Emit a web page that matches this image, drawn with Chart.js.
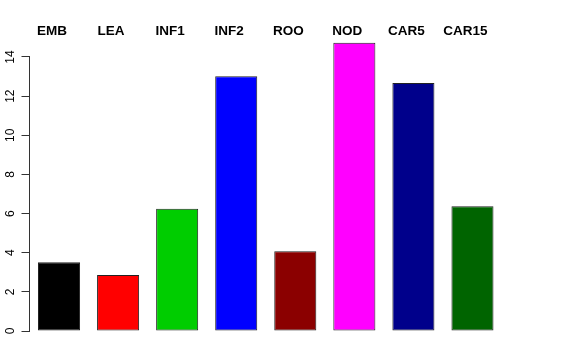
<!DOCTYPE html>
<html>
<head>
<meta charset="utf-8">
<script src="https://cdn.jsdelivr.net/npm/chart.js@4/dist/chart.umd.min.js"></script>
<style>
  html, body { margin: 0; padding: 0; background: #fff; }
  #wrap { width: 576px; height: 360px; }
</style>
</head>
<body>
<div id="wrap"><canvas id="mainChart"></canvas></div>
<script>
const categories = ['EMB', 'LEA', 'INF1', 'INF2', 'ROO', 'NOD', 'CAR5', 'CAR15'];
const values = [3.51, 2.86, 6.25, 13.01, 4.07, 14.73, 12.67, 6.37];
const barColors = ['#000000', '#FF0000', '#00CD00', '#0000FF', '#8B0000', '#FF00FF', '#00008B', '#006400'];
const yTicks = [0, 2, 4, 6, 8, 10, 12, 14];

// axis line only spans the tick range, like base R
const axisLine = {
    id: 'axisLine',
    afterDraw(chart) {
        const y = chart.scales.y;
        const c = chart.ctx;
        c.save();
        c.strokeStyle = '#333';
        c.lineWidth = 1;
        c.beginPath();
        const x = Math.round(y.right) - 0.5;
        c.moveTo(x, y.getPixelForValue(yTicks[0]));
        c.lineTo(x, y.getPixelForValue(yTicks[yTicks.length - 1]));
        c.stroke();
        c.restore();
    }
};

const ctx = document.getElementById('mainChart').getContext('2d');
new Chart(ctx, {
    type: 'bar',
    data: {
        labels: categories,
        datasets: [{
            data: values,
            backgroundColor: barColors,
            borderColor: '#222',
            borderWidth: 1,
            borderSkipped: false,
            barPercentage: 0.712,
            categoryPercentage: 1
        }]
    },
    options: {
        responsive: true,
        maintainAspectRatio: false,
        animation: false,
        layout: { padding: { left: 0, right: 74, top: 20, bottom: 19.2 } },
        plugins: { legend: { display: false }, tooltip: { enabled: false } },
        scales: {
            x: {
                position: 'top',
                afterFit: s => { s.height = 18; },
                grid: { display: false, drawTicks: false },
                border: { display: false },
                ticks: {
                    color: '#000',
                    font: { family: 'Liberation Sans', size: 13.5, weight: 'bold' },
                    labelOffset: -7,
                    padding: -1,
                    maxRotation: 0
                }
            },
            y: {
                min: -0.5,
                max: 14.97,
                afterBuildTicks: s => { s.ticks = yTicks.map(v => ({ value: v })); },
                afterFit: s => { s.width = 29.5; },
                grid: { drawOnChartArea: false, tickLength: 8, color: '#333' },
                border: { display: false },
                ticks: {
                    color: '#000',
                    font: { family: 'Liberation Sans', size: 12 },
                    minRotation: 90,
                    maxRotation: 90,
                    crossAlign: 'center',
                    padding: 4
                }
            }
        }
    },
    plugins: [axisLine]
});
</script>
</body>
</html>
